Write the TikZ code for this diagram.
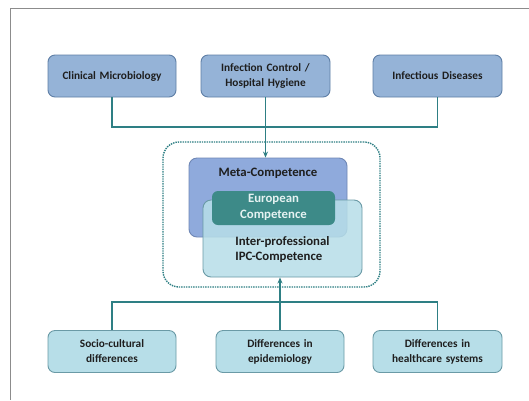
\documentclass[tikz,border=0pt]{standalone}
\usepackage{fontspec}
\setmainfont{Carlito}
\usetikzlibrary{arrows.meta}
\definecolor{topfill}{HTML}{95B3D7}
\definecolor{topdraw}{HTML}{5F7FA6}
\definecolor{botfill}{HTML}{B7DEE8}
\definecolor{botdraw}{HTML}{6A9AA6}
\definecolor{conn}{HTML}{2E7F84}
\definecolor{metafill}{HTML}{8FAADC}
\definecolor{metadraw}{HTML}{6F87B5}
\definecolor{eurofill}{HTML}{3D8A88}
\definecolor{textc}{HTML}{1E1E1E}
\definecolor{framec}{HTML}{8C8C8C}
\tikzset{
  boxbase/.style={rounded corners=7pt, minimum height=42pt, text width=124pt, align=center, font=\fontsize{11.3}{15}\selectfont\bfseries, text=textc, inner sep=0pt, line width=0.9pt},
  topbox/.style={boxbase, fill=topfill, draw=topdraw, minimum width=128pt},
  botbox/.style={boxbase, fill=botfill, draw=botdraw, minimum width=128pt},
  midtext/.style={font=\fontsize{12.8}{15.5}\selectfont\bfseries, text=textc, inner sep=0pt, align=center},
  connline/.style={draw=conn, line width=1.3pt},
  connarrow/.style={connline, -{Stealth[length=6pt,width=5pt]}},
}
\begin{document}
\begin{tikzpicture}[x=1pt,y=-1pt]
\useasboundingbox (0,0) rectangle (529,400);
\fill[white] (0,0) rectangle (529,400);
% frame
\draw[framec, line width=0.9pt] (529,8) -- (10,8) -- (10,400);
% top boxes
\node[topbox] (cm) at (112,76) {Clinical Microbiology};
\node[topbox, minimum width=129pt] (ic) at (265.5,76) {Infection Control /\\Hospital Hygiene};
\node[topbox, minimum width=129pt] (id) at (437.5,76) {Infectious Diseases};
% bottom boxes
\node[botbox] (sc) at (112,351.5) {Socio-cultural\\differences};
\node[botbox] (ep) at (280,351.5) {Differences in\\epidemiology};
\node[botbox, minimum width=129pt] (hc) at (437.5,351.5) {Differences in\\healthcare systems};
% dotted frame
\node[draw=conn, densely dotted, line width=1.4pt, rounded corners=16pt, minimum width=217pt, minimum height=145pt, inner sep=0pt] (dot) at (271.5,214.5) {};
% meta box
\node[fill=metafill, draw=metadraw, line width=0.9pt, rounded corners=8pt, minimum width=158pt, minimum height=79pt, inner sep=0pt] (meta) at (268,197.5) {};
\node[midtext] (metat) at (268,173) {Meta-Competence};
% inter box
\node[fill=botfill, fill opacity=0.85, draw=botdraw, line width=0.9pt, rounded corners=8pt, minimum width=159pt, minimum height=77pt, inner sep=0pt] (inter) at (282.5,238.5) {};
\node[midtext, align=left] (intert) at (282.5,249.5) {Inter-professional\\IPC-Competence};
% european box
\node[fill=eurofill, rounded corners=6pt, minimum width=123pt, minimum height=34pt, inner sep=0pt] (eu) at (273.5,208) {};
\node[midtext, text=white!90!teal] (eut) at (273.5,207.5) {European\\Competence};
% connectors
\coordinate (hubt) at (265.5,127);
\draw[connline] (cm.south) |- (hubt) -| (id.south);
\draw[connarrow] (ic.south) -- (ic.south |- meta.north);
\coordinate (hubb) at (280,302);
\draw[connline] (sc.north) |- (hubb) -| (hc.north);
\draw[connarrow] (ep.north) -- (ep.north |- inter.south);
\end{tikzpicture}
\end{document}
